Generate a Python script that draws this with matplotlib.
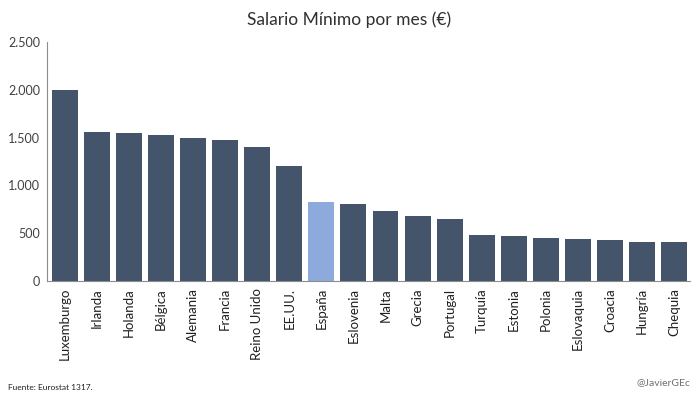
import numpy as np
import matplotlib.pyplot as plt

plt.rcParams['font.family'] = ['Lato', 'DejaVu Sans']

# datos del grafico
paises = ['Luxemburgo', 'Irlanda', 'Holanda', 'Bélgica', 'Alemania', 'Francia',
          'Reino Unido', 'EE.UU.', 'España', 'Eslovenia', 'Malta', 'Grecia',
          'Portugal', 'Turquía', 'Estonia', 'Polonia', 'Eslovaquia', 'Croacia',
          'Hungría', 'Chequia']
salario = [1999, 1563, 1552, 1532, 1498, 1480, 1401, 1200, 826, 805, 736, 684,
           650, 481, 470, 453, 435, 433, 412, 407]

colores = ['#8EA9DB' if p == 'España' else '#44546A' for p in paises]

fig = plt.figure(figsize=(6.99, 3.97), dpi=100)
ax = fig.add_axes([0.0672, 0.292, 0.92, 0.602])

x = np.arange(len(paises))
ax.bar(x, salario, width=0.81, color=colores)

ax.set_xlim(-0.56, 19.5)
ax.set_ylim(0, 2500)
ax.set_yticks(range(0, 2501, 500))
ax.set_yticklabels(['0', '500', '1.000', '1.500', '2.000', '2.500'], fontsize=9, color='#404040')
ax.set_xticks(x)
ax.set_xticklabels(paises, rotation=90, fontsize=9.5, color='#202020')
ax.tick_params(length=0, pad=5)

for s in ['top', 'right']:
    ax.spines[s].set_visible(False)
for s in ['left', 'bottom']:
    ax.spines[s].set_color('#8c8c8c')

fig.text(0.5, 0.95, 'Salario Mínimo por mes (€)', ha='center', va='center', fontsize=12.5, color='#303030')
fig.text(0.012, 0.025, 'Fuente: Eurostat 1317.', ha='left', va='center', fontsize=6, color='#202020')
fig.text(0.988, 0.035, '@JavierGEc', ha='right', va='center', fontsize=7.5, color='#707070')

plt.savefig('out.png', dpi=100)
